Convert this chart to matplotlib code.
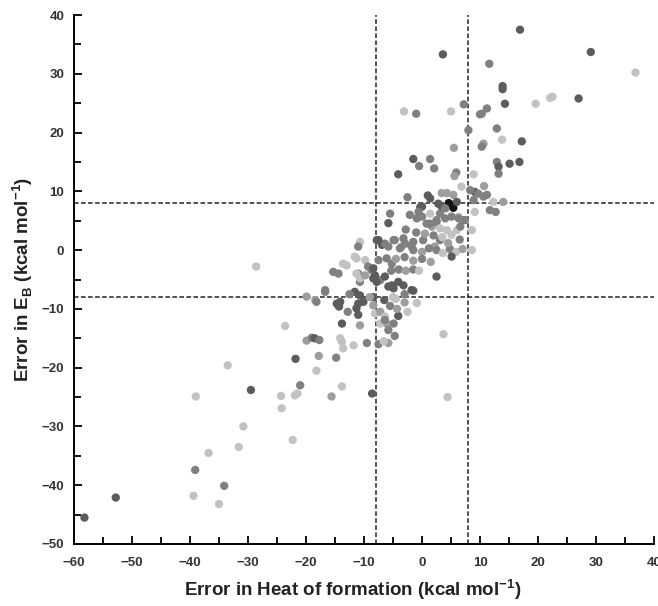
import matplotlib.pyplot as plt
import numpy as np

plt.rcParams['font.family'] = ['Liberation Sans', 'DejaVu Sans']
plt.rcParams['mathtext.fontset'] = 'custom'
plt.rcParams['mathtext.bf'] = 'Liberation Sans:bold'
plt.rcParams['mathtext.rm'] = 'Liberation Sans:bold'

# gray level for each shade code (0 = black ... 4 = light)
shade_gray = [0.08, 0.36, 0.50, 0.62, 0.76]

# (error in heat of formation, error in E_B, shade code)
points = [
    # sparse lower-left tail
    (-58.2, -45.5, 1), (-52.8, -42.1, 1), (-39.0, -24.9, 4), (-33.5, -19.6, 4),
    (-29.5, -23.8, 1), (-39.1, -37.4, 2), (-39.4, -41.8, 4), (-36.8, -34.5, 4),
    (-34.1, -40.1, 2), (-35.0, -43.2, 4), (-30.8, -30.0, 4), (-31.6, -33.5, 4),
    (-24.3, -24.8, 4), (-24.2, -26.9, 4), (-22.3, -32.3, 4), (-21.9, -24.7, 4),
    (-21.5, -24.4, 4), (-21.0, -23.0, 2), (-21.8, -18.5, 1), (-17.8, -18.0, 3),
    (-18.2, -20.5, 4), (-23.6, -12.9, 4), (-28.6, -2.8, 4),
    (-19.9, -15.4, 3), (-19.0, -14.9, 2), (-18.5, -15.0, 1), (-17.7, -15.3, 2),
    (-14.1, -15.0, 4), (-13.8, -15.6, 4), (-13.6, -16.7, 4), (-11.8, -16.2, 4),
    (-9.5, -15.8, 2), (-7.5, -16.0, 2), (-5.8, -15.8, 3), (-6.6, -15.5, 4),
    (-14.8, -18.3, 2), (-13.8, -23.2, 4), (-15.6, -24.9, 3), (-8.6, -24.4, 1),
    (4.4, -25.0, 4), (3.7, -14.3, 4),
    (-16.7, -6.8, 2), (-16.7, -7.1, 2), (-19.9, -7.9, 3), (-18.4, -8.5, 3), (-18.2, -8.8, 2),
    # upper right
    (16.9, 37.5, 1), (3.6, 33.3, 1), (29.1, 33.7, 1), (36.8, 30.2, 4), (11.6, 31.7, 2),
    (13.9, 27.9, 1), (13.9, 27.4, 1), (14.3, 24.9, 1), (19.6, 24.9, 4), (22.1, 25.9, 4),
    (22.5, 26.1, 4), (27.0, 25.8, 1), (-3.1, 23.6, 4), (-1.0, 23.2, 2), (5.0, 23.6, 4),
    (7.2, 24.8, 2), (10.0, 23.1, 2), (10.3, 23.2, 2), (11.2, 24.1, 2), (8.0, 20.4, 2),
    (12.9, 20.7, 2), (13.8, 18.8, 4), (17.2, 18.5, 1), (10.6, 18.1, 3), (10.3, 17.6, 2),
    (5.5, 17.4, 3), (-1.5, 15.5, 1), (-0.5, 14.3, 2), (1.4, 15.5, 2), (2.1, 13.9, 2),
    (-4.1, 12.9, 1), (5.9, 13.2, 2), (5.6, 12.6, 3), (8.9, 12.9, 4), (12.9, 15.0, 2),
    (13.2, 14.2, 1), (13.2, 13.0, 2), (15.1, 14.7, 1), (16.8, 15.0, 1), (-2.5, 9.0, 2),
    (1.4, 8.8, 1), (1.0, 9.3, 1), (3.4, 9.7, 3), (4.3, 9.7, 3), (5.4, 9.4, 3),
    (6.8, 10.8, 4), (9.1, 9.9, 1), (9.7, 9.6, 2), (10.7, 10.9, 3), (10.6, 9.1, 2),
    (8.3, 10.2, 2), (11.2, 9.4, 2), (14.0, 8.2, 3),
    # around the upper dashed line
    (5.1, 7.7, 0), (4.6, 8.0, 0), (5.4, 7.2, 0), (3.4, 7.4, 1), (2.8, 7.9, 1),
    (6.0, 8.2, 1), (8.9, 8.5, 2), (12.3, 8.2, 4), (11.7, 6.8, 2), (12.7, 6.5, 2),
    (9.1, 6.5, 4), (8.6, 3.4, 4), (7.4, 5.1, 2), (6.3, 5.7, 4), (-0.3, 7.3, 1),
    (0.0, 7.4, 1), (-0.6, 6.5, 2), (0.0, 5.7, 2), (-5.5, 6.2, 2), (-5.8, 4.6, 1),
    (-2.1, 6.0, 2), (-0.9, 5.4, 2), (3.1, 6.2, 2), (4.0, 7.1, 2), (1.4, 6.2, 4),
    (0.8, 4.5, 2), (1.7, 4.0, 3), (2.5, 5.1, 2), (4.0, 5.4, 2), (5.1, 5.7, 2),
    (6.3, 5.4, 2), (1.4, 4.5, 2), (2.5, 4.8, 2), (3.1, 3.7, 4), (4.3, 3.4, 4),
    (5.1, 2.6, 4), (6.0, 3.4, 4), (6.6, 4.0, 2), (7.1, 5.1, 2),
    # central band
    (-4.9, 1.7, 2), (-3.2, 2.0, 2), (-1.5, 1.4, 2), (0.2, 1.7, 2), (3.1, 1.7, 2),
    (-5.8, 0.6, 2), (-3.5, 0.6, 3), (-1.8, 0.6, 2), (2.2, 0.6, 3), (-7.8, 1.7, 1),
    (-6.9, 0.9, 1), (-6.4, 1.1, 2), (-4.7, 1.7, 2), (-3.8, 0.3, 2), (-2.9, 1.1, 2),
    (-10.7, 1.4, 4), (-11.0, 0.6, 2), (-7.5, 1.7, 1),
    (-1.5, 0.0, 2), (0.0, -0.3, 3), (1.2, 0.3, 2), (2.5, 0.0, 2), (3.6, -0.5, 4),
    (4.8, 0.2, 2), (5.9, -0.3, 4), (7.0, 0.2, 3), (8.6, 0.0, 4),
    (5.1, -1.1, 1), (2.5, -4.5, 1),
    (-1.0, 3.0, 2), (0.5, 2.8, 3), (2.0, 2.5, 2), (3.5, 2.2, 4), (-2.8, 3.5, 2),
    (4.5, 1.2, 3), (6.5, 1.8, 2),
    # y between 0 and -8
    (-13.6, -2.3, 4), (-13.0, -2.6, 4), (-11.6, -1.1, 4), (-11.3, -1.4, 4), (-9.8, -1.7, 4),
    (-9.3, -2.8, 2), (-8.7, -3.4, 2), (-7.5, -1.7, 2), (-6.1, -1.4, 2), (-5.2, -2.3, 2),
    (-15.3, -3.7, 2), (-14.4, -4.0, 2), (-11.0, -4.0, 2), (-10.7, -5.4, 2), (-8.4, -4.8, 1),
    (-7.2, -5.1, 2), (-6.4, -4.5, 1), (-5.2, -6.0, 1), (-4.1, -5.4, 1), (-3.2, -6.0, 1),
    (-11.3, -4.0, 4), (-10.7, -4.8, 4), (-9.8, -4.3, 3), (-8.4, -3.1, 1), (-8.1, -4.3, 1),
    (-7.8, -5.4, 1), (-5.3, -3.5, 2), (-4.0, -3.3, 2), (-2.8, -3.5, 3), (-1.5, -3.3, 2),
    (-0.5, -3.5, 4), (-4.5, -1.5, 3), (-3.0, -1.2, 2), (-1.5, -1.8, 3), (0.0, -1.5, 2),
    (1.5, -2.0, 3), (-5.8, -6.2, 1), (-4.9, -6.5, 1), (-1.8, -6.8, 1), (-1.5, -6.9, 1),
    (-3.0, -7.5, 2), (-3.0, -8.9, 3), (-0.9, -9.0, 4), (-8.4, -8.0, 1), (-6.5, -8.5, 1),
    # y between -7 and -13
    (-11.6, -7.1, 1), (-10.7, -7.7, 1), (-10.1, -8.8, 1), (-11.3, -9.9, 1), (-11.0, -11.0, 1),
    (-11.0, -9.1, 1), (-14.4, -9.4, 1), (-14.1, -8.8, 1), (-14.7, -9.1, 1), (-14.3, -9.6, 1),
    (-9.0, -8.0, 3), (-8.4, -9.4, 3), (-8.1, -10.8, 4), (-7.2, -10.5, 3), (-6.4, -11.3, 4),
    (-6.1, -12.5, 3), (-7.2, -12.5, 4), (-13.8, -12.5, 1), (-10.7, -12.8, 3), (-4.7, -14.6, 2),
    (-5.8, -13.6, 2), (-4.1, -11.2, 1), (-4.9, -12.5, 2), (-6.4, -11.9, 2), (-2.5, -10.5, 4),
    (-5.5, -9.5, 2), (-4.5, -8.3, 4), (-12.5, -7.5, 2), (-12.8, -10.5, 2),
    (-5.0, -8.0, 4), (-4.3, -10.0, 3),
]

heat_err = [p[0] for p in points]
eb_err = [p[1] for p in points]
shade = [p[2] for p in points]
colors = [str(shade_gray[s]) for s in shade]

fig = plt.figure(figsize=(6.58, 6.06), dpi=100)
ax = fig.add_axes([74 / 658, 62 / 606, 580 / 658, 529 / 606])

ax.scatter(heat_err, eb_err, s=36, c=colors, edgecolors='none', zorder=3)

# +/- 8 kcal/mol window
for v in (-8, 8):
    ax.axvline(v, color='#222222', lw=1.1, linestyle=(0, (3, 1.6)), zorder=2)
    ax.axhline(v, color='#222222', lw=1.1, linestyle=(0, (3, 1.6)), zorder=2)

ax.set_xlim(-60, 40)
ax.set_ylim(-50, 40)
ax.set_xticks(np.arange(-60, 41, 10))
ax.set_yticks(np.arange(-50, 41, 10))
ax.set_xticks(np.arange(-55, 40, 10), minor=True)
ax.set_yticks(np.arange(-45, 40, 10), minor=True)
ax.tick_params(which='both', direction='in', width=1.3, labelsize=9.5,
               labelcolor='#333333')
ax.tick_params(axis='x', pad=9)
ax.tick_params(axis='y', pad=7)
ax.tick_params(which='major', length=6)
ax.tick_params(which='minor', length=5)
for lab in ax.get_xticklabels() + ax.get_yticklabels():
    lab.set_fontweight('bold')

ax.spines['top'].set_visible(False)
ax.spines['right'].set_visible(False)
ax.spines['left'].set_linewidth(1.4)
ax.spines['bottom'].set_linewidth(1.4)

ax.set_xlabel(r'Error in Heat of formation (kcal mol$^{\mathbf{-1}}$)',
              fontsize=13.5, fontweight='bold', color='#222222')
ax.xaxis.set_label_coords(0.48, -0.062)
ax.set_ylabel(r'Error in E$_{\mathbf{B}}$ (kcal mol$^{\mathbf{-1}}$)',
              fontsize=13.5, fontweight='bold', labelpad=5, color='#222222')

fig.savefig('out.png', dpi=100)
